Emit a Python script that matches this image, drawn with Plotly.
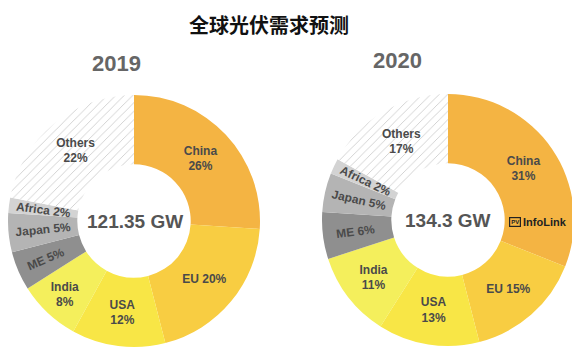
import math
import plotly.graph_objects as go

title_text = "全球光伏需求预测"
regions = ["China", "EU", "USA", "India", "ME", "Japan", "Africa", "Others"]
share_2019 = [26, 20, 12, 8, 5, 5, 2, 22]
share_2020 = [31, 15, 13, 11, 6, 5, 2, 17]
total_2019 = "121.35 GW"
total_2020 = "134.3 GW"
years = ["2019", "2020"]
label_sep = ["<br>", " ", "<br>", "<br>", " ", " ", " ", "<br>"]
annotated = ["Africa"]  # thin slices labelled with a radial annotation

colors = ["#F4B443", "#F8CD42", "#F8E646", "#F4EF5C", "#8F8F8F", "#B4B4B4", "#D3D3D3", "#FFFFFF"]
shapes = ["", "", "", "", "", "", "", "/"]
fg = colors[:-1] + ["#CFCFCF"]

FONT = "Liberation Sans, Arial, Helvetica, sans-serif"
CJK = "Noto Sans CJK SC, sans-serif"
TXT = "#4A4A4A"
W, H = 572, 349
OFF = 8  # page body margin
HOLE = 0.45


def px(x):
    return min(max((x - OFF) / W, 0), 1)


def py(y):
    return min(max(1 - (y - OFF) / H, 0), 1)


def pie(values, cx, cy, r):
    tmpl = []
    for lab, s in zip(regions, label_sep):
        tmpl.append("" if lab in annotated else f"%{{label}}{s}%{{value}}%")
    return go.Pie(
        labels=regions,
        values=values,
        sort=False,
        direction="clockwise",
        rotation=0,
        hole=HOLE,
        texttemplate=tmpl,
        textposition="inside",
        insidetextorientation="auto",
        textfont=dict(family=FONT, size=12, color=TXT, weight="bold"),
        marker=dict(
            colors=colors,
            line=dict(width=0),
            pattern=dict(shape=shapes, fillmode="replace", bgcolor="#FFFFFF",
                         fgcolor=fg, size=6, solidity=0.15),
        ),
        domain=dict(x=[px(cx - r), px(cx + r)], y=[py(cy + r), py(cy - r)]),
        showlegend=False,
        hoverinfo="label+value",
    )


def slice_labels(values, cx, cy, r):
    out = []
    total = sum(values)
    cum = 0
    rr = r * (1 + HOLE) / 2
    for lab, v, s in zip(regions, values, label_sep):
        mid = (cum + v / 2) / total * 360
        cum += v
        if lab not in annotated:
            continue
        t = math.radians(mid)
        x = cx + rr * math.sin(t)
        y = cy - rr * math.cos(t)
        ang = mid - 270 if mid > 180 else mid - 90
        out.append(dict(x=px(x), y=py(y), text=f"<b>{lab}{s}{v}%</b>", textangle=ang,
                        font=dict(family=FONT, size=12, color=TXT)))
    return out


C1 = (134, 221, 126)
C2 = (448, 220, 126)

fig = go.Figure()
fig.add_trace(pie(share_2019, *C1))
fig.add_trace(pie(share_2020, *C2))

ann = [
    dict(x=px(269), y=1.0, yanchor="top", text=f"<b>{title_text}</b>",
         font=dict(family=CJK, size=20, color="#111111")),
    dict(x=px(116), y=py(63), text=f"<b>{years[0]}</b>",
         font=dict(family=FONT, size=22, color="#666666")),
    dict(x=px(397), y=py(60), text=f"<b>{years[1]}</b>",
         font=dict(family=FONT, size=22, color="#666666")),
    dict(x=px(135), y=py(221), text=f"<b>{total_2019}</b>",
         font=dict(family=FONT, size=19, color="#555555")),
    dict(x=px(448), y=py(220), text=f"<b>{total_2020}</b>",
         font=dict(family=FONT, size=19, color="#555555")),
    dict(x=px(515), y=py(222), text="<b>PV</b>",
         font=dict(family=FONT, size=6, color="#222222"),
         bordercolor="#222222", borderwidth=1.2, borderpad=1),
    dict(x=px(545), y=py(222), text="<b>InfoLink</b>",
         font=dict(family=FONT, size=11, color="#222222")),
]
ann += slice_labels(share_2019, *C1)
ann += slice_labels(share_2020, *C2)
for a in ann:
    a.setdefault("yanchor", "middle")
    a.update(xref="paper", yref="paper", showarrow=False, xanchor="center")

fig.update_layout(
    width=W, height=H,
    margin=dict(l=0, r=0, t=0, b=0),
    paper_bgcolor="#FFFFFF",
    plot_bgcolor="#FFFFFF",
    annotations=ann,
    uniformtext=dict(minsize=12, mode="show"),
)

fig.write_html("out.html")
